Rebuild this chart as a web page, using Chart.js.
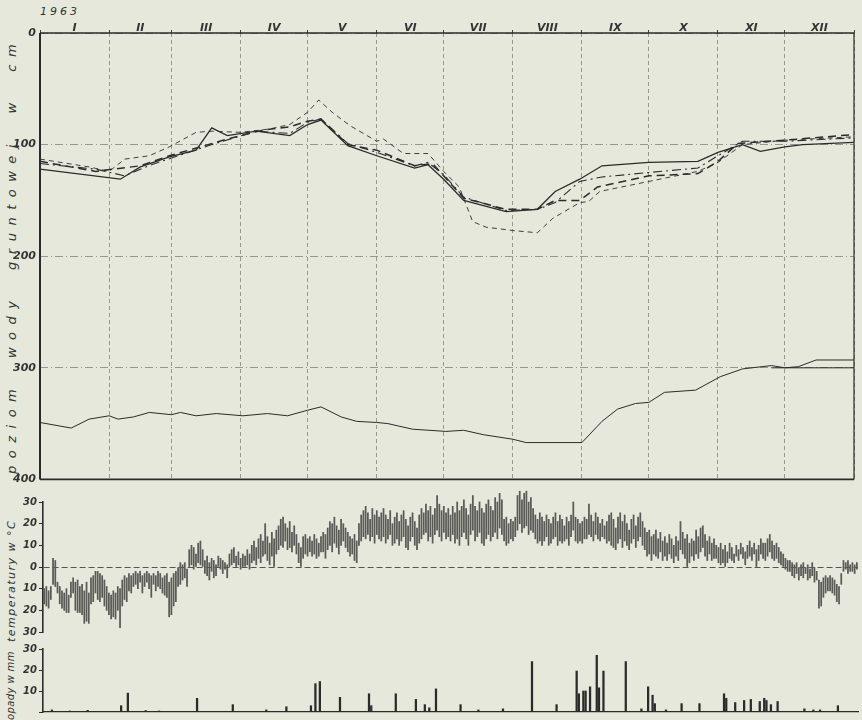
<!DOCTYPE html>
<html>
<head>
<meta charset="utf-8">
<script src="https://cdn.jsdelivr.net/npm/chart.js@4"></script>
<style>
  body { margin: 0; background: #e6e8dc; width: 862px; height: 720px; position: relative; overflow: hidden;
         font-family: "DejaVu Sans", sans-serif; color: #333; }
  canvas { position: absolute; left: 0; }
  .txt { position: absolute; font-style: italic; white-space: nowrap; }
  .rot { transform-origin: 0 0; transform: rotate(-90deg); }
</style>
</head>
<body>
<div class="txt" style="left:40px;top:5px;font-size:11px;letter-spacing:3px">1963</div>
<div class="txt rot" style="left:4px;top:474px;font-size:13px;letter-spacing:7.5px;word-spacing:12px">poziom wody gruntowej w cm</div>
<div class="txt rot" style="left:5px;top:642px;font-size:11px;letter-spacing:1.5px">temperatury w °C</div>
<div class="txt rot" style="left:5px;top:720px;font-size:10px;letter-spacing:0.4px">opady w mm</div>

<canvas id="cGround" width="862" height="490" style="top:0"></canvas>
<canvas id="cTemp" width="862" height="150" style="top:490px"></canvas>
<canvas id="cRain" width="862" height="80" style="top:640px"></canvas>

<script>
Chart.defaults.font.family = "'DejaVu Sans', sans-serif";
Chart.defaults.color = '#333';

// --------------
// DATA
// --------------
const monthStarts = [0, 31, 59, 90, 120, 151, 181, 212, 243, 273, 304, 334, 365];
const monthNames = ['I', 'II', 'III', 'IV', 'V', 'VI', 'VII', 'VIII', 'IX', 'X', 'XI', 'XII'];
const levelTicks = [0, 100, 200, 300, 400];

// groundwater depth (cm), day of year
const solidDays   = [0, 36, 45, 58, 70, 77, 84, 97, 112, 120, 126, 138, 151, 168, 174, 181, 190, 209, 223, 231, 242, 252, 273, 295, 304, 315, 323, 334, 342, 365];
const solidLevels = [122, 131, 120, 111, 105, 85, 92, 88, 92, 82, 78, 101, 110, 121, 118, 131, 150, 160, 158, 142, 131, 119, 116, 115, 107, 100, 106, 102, 100, 98];

const longDashDays   = [0, 25, 45, 58, 72, 84, 100, 112, 120, 126, 138, 151, 168, 176, 181, 190, 209, 223, 231, 242, 250, 273, 295, 304, 313, 334, 365];
const longDashLevels = [115, 124, 119, 110, 102, 95, 87, 84, 79, 77, 100, 105, 119, 117, 128, 148, 158, 158, 150, 150, 138, 128, 126, 115, 99, 96, 91];

const dashDotDays   = [0, 25, 38, 50, 62, 77, 97, 112, 120, 126, 138, 151, 168, 174, 181, 190, 209, 223, 231, 242, 252, 273, 295, 304, 315, 334, 365];
const dashDotLevels = [117, 122, 128, 118, 110, 100, 88, 90, 80, 77, 99, 107, 119, 116, 127, 147, 159, 158, 152, 133, 129, 125, 121, 110, 97, 97, 94];

const fineDashDays   = [0, 22, 31, 38, 49, 58, 70, 77, 90, 103, 112, 120, 125, 131, 139, 151, 154, 163, 174, 181, 188, 194, 200, 212, 223, 230, 242, 246, 251, 273, 295, 304, 315, 334, 365];
const fineDashLevels = [113, 120, 124, 113, 110, 102, 89, 88, 89, 86, 82, 71, 60, 71, 83, 97, 95, 108, 108, 124, 138, 169, 174, 177, 179, 166, 152, 151, 142, 133, 124, 116, 100, 96, 93];

const deepDays   = [0, 14, 22, 31, 35, 42, 49, 59, 63, 70, 79, 91, 102, 111, 120, 126, 135, 142, 151, 156, 167, 182, 190, 199, 212, 218, 243, 252, 259, 267, 273, 280, 294, 305, 315, 328, 334, 340, 348, 365];
const deepLevels = [349, 354, 346, 343, 346, 344, 340, 342, 340, 343, 341, 343, 341, 343, 338, 335, 344, 348, 349, 350, 355, 357, 356, 360, 364, 367, 367, 348, 337, 332, 331, 322, 320, 308, 301, 298, 300, 299, 293, 293];

const deep2Days   = [328, 365];
const deep2Levels = [300, 300];

// daily temperature max / min (°C), Jan..Dec
const tMax = [
  -10,-9,-11,-9,4,3,-7,-9,-11,-12,-10,-13,-7,-5,-7,-6,-9,-8,-11,-7,-12,-5,-4,-2,-2,-3,-4,-6,-9,-12,-13,
  -11,-12,-9,-10,-6,-4,-5,-3,-4,-3,-2,-3,-2,-4,-3,-2,-3,-4,-3,-4,-2,-3,-5,-4,-3,-7,-5,-3,
  -2,0,2,1,2,-1,8,10,9,6,11,12,8,3,5,2,4,3,1,5,4,3,2,1,6,8,9,5,7,4,6,
  5,8,6,10,12,9,13,15,12,20,14,11,16,13,17,19,22,23,20,18,21,16,19,15,11,9,14,15,13,14,
  12,15,13,11,14,16,15,18,21,20,23,19,17,22,20,18,16,14,13,15,12,20,24,26,28,25,22,27,24,26,23,
  25,27,24,22,26,20,23,25,21,24,26,22,19,23,25,21,18,24,27,25,29,26,28,24,27,33,29,26,28,25,
  27,24,28,25,30,26,28,31,27,24,29,33,28,26,30,27,25,29,31,28,26,32,30,34,31,22,23,20,22,21,23,
  33,35,31,34,35,30,32,27,24,22,25,23,21,24,22,20,23,25,21,24,22,19,23,21,24,30,23,22,20,21,23,
  22,29,24,21,25,23,20,22,19,21,24,25,22,18,23,25,21,24,20,17,22,24,19,23,25,21,18,16,17,14,
  15,17,13,16,12,14,11,15,13,10,14,12,21,16,13,15,11,13,12,17,14,18,19,15,12,14,11,13,10,9,11,
  8,10,7,11,9,6,10,8,11,9,7,10,12,9,11,8,10,13,11,11,13,15,12,10,11,9,7,6,4,3,
  3,2,1,2,0,1,2,0,1,-1,2,0,-2,-6,-7,-5,-4,-5,-4,-5,-6,-8,-9,-3,3,2,3,1,2,1,2
];
const tMin = [
  -17,-18,-19,-15,-8,-9,-12,-17,-19,-20,-21,-21,-14,-12,-20,-21,-21,-22,-26,-25,-26,-17,-16,-12,-15,-16,-14,-18,-20,-22,-24,
  -23,-24,-20,-28,-18,-15,-16,-11,-12,-9,-8,-10,-7,-12,-9,-7,-10,-14,-8,-11,-9,-10,-12,-13,-14,-23,-22,-18,
  -16,-9,-8,-6,-5,-9,0,1,-1,0,2,1,0,-3,-4,-6,-2,-5,-4,0,-1,-3,-1,-5,0,1,2,0,1,-1,0,
  0,1,-1,2,3,1,4,2,5,6,3,1,5,0,6,8,10,9,12,8,9,7,10,6,2,0,4,6,5,7,
  5,6,4,5,7,7,4,8,10,7,11,9,6,10,12,9,7,5,6,3,2,10,12,14,13,15,12,14,11,15,13,
  12,14,11,13,15,10,11,13,10,12,14,9,8,12,14,10,8,11,13,15,16,12,14,11,15,17,14,12,16,13,
  14,12,15,11,13,10,14,16,13,10,15,17,12,14,16,11,10,13,15,12,14,16,13,18,15,12,10,11,13,12,14,
  17,20,16,18,19,15,17,16,13,11,12,10,12,14,10,11,13,14,10,12,11,12,13,10,14,17,12,11,12,11,13,
  13,15,14,12,15,13,12,14,13,11,12,10,9,8,11,13,9,12,10,8,11,13,9,12,14,10,8,5,6,3,
  6,5,4,7,3,5,3,6,4,2,5,3,8,6,4,0,2,5,3,6,4,7,9,5,3,6,3,4,4,2,1,
  2,0,2,4,3,2,5,3,6,4,1,4,5,3,6,0,3,6,4,3,5,7,4,3,4,2,1,0,-1,-2,
  -2,-4,-5,-3,-6,-4,-5,-3,-6,-5,-4,-7,-6,-19,-18,-14,-12,-11,-11,-12,-13,-16,-17,-8,-2,-1,-3,-2,-2,-3,-1
];
const tempTicks = [-30, -20, -10, 0, 10, 20, 30];

// precipitation (mm), day of year
const pDays = [4, 12, 20, 35, 38, 46, 52, 69, 85, 100, 109, 120, 122, 124, 133, 146, 147, 158, 167, 171, 173, 176, 187, 195, 206, 219, 230, 239, 240, 242, 243, 245, 248, 249, 251, 261, 268, 271, 273, 274, 279, 286, 294, 305, 306, 310, 314, 317, 321, 323, 324, 326, 329, 341, 345, 348, 356];
const pRain = [1, 0.5, 0.8, 3, 9, 0.7, 0.5, 6.5, 3.5, 1, 2.5, 3, 13.5, 14.5, 7, 8.7, 3, 8.7, 6, 3.5, 2, 11, 3.5, 1, 1.5, 24, 3.5, 19.5, 8.7, 10, 10, 12, 27, 11.5, 19.5, 24, 1.5, 12, 8, 4, 1, 4, 4, 8.7, 6.5, 4.5, 5.5, 6, 5, 6.5, 5.5, 3.5, 5, 1.5, 1, 1, 3];

// --------------
// HELPERS
// --------------
const INK = '#2b2b2b';
const GRID = '#8c8d85';
const italic = (size) => ({ size: size, style: 'italic', weight: 'bold' });

function pts(days, vals) {
  return days.map((d, i) => ({ x: d, y: vals[i] }));
}

function lineSet(days, vals, width, dash) {
  return {
    data: pts(days, vals),
    borderColor: INK,
    borderWidth: width,
    borderDash: dash,
    pointRadius: 0,
    tension: 0,
    fill: false
  };
}

// frame around the groundwater panel
const framePlugin = {
  id: 'frame',
  afterDraw(chart) {
    const { ctx, chartArea: a } = chart;
    ctx.save();
    ctx.strokeStyle = INK;
    const side = (w, x1, y1, x2, y2) => {
      ctx.lineWidth = w;
      ctx.beginPath(); ctx.moveTo(x1, y1); ctx.lineTo(x2, y2); ctx.stroke();
    };
    side(1.6, a.left, a.top, a.right, a.top);
    side(2, a.left, a.top, a.left, a.bottom);
    side(1.6, a.left, a.bottom, a.right, a.bottom);
    side(1.2, a.right, a.top, a.right, a.bottom);
    ctx.restore();
  }
};

// --------------
// GROUNDWATER
// --------------
const monthMids = monthNames.map((m, i) => (monthStarts[i] + monthStarts[i + 1]) / 2);

new Chart(document.getElementById('cGround'), {
  type: 'line',
  data: {
    datasets: [
      lineSet(solidDays, solidLevels, 1.3, []),
      lineSet(longDashDays, longDashLevels, 1.5, [8, 5]),
      lineSet(dashDotDays, dashDotLevels, 1.1, [9, 4, 2, 4]),
      lineSet(fineDashDays, fineDashLevels, 0.9, [5, 4]),
      lineSet(deepDays, deepLevels, 1.0, []),
      lineSet(deep2Days, deep2Levels, 1.0, [])
    ]
  },
  options: {
    responsive: false,
    animation: false,
    events: [],
    layout: { padding: { left: 0, right: 8, top: 0, bottom: 7 } },
    plugins: { legend: { display: false }, tooltip: { enabled: false } },
    scales: {
      x: {
        type: 'linear',
        position: 'top',
        min: 0,
        max: 365,
        afterBuildTicks: s => { s.ticks = monthStarts.concat(monthMids).sort((a, b) => a - b).map(v => ({ value: v })); },
        afterFit: s => { s.height = 33; },
        ticks: {
          autoSkip: false,
          maxRotation: 0,
          padding: -5,
          font: italic(11),
          callback: v => { const i = monthMids.indexOf(v); return i >= 0 ? monthNames[i] : ''; }
        },
        grid: {
          color: c => (c.tick && monthStarts.includes(c.tick.value)) ? GRID : 'transparent',
          tickColor: c => (c.tick && monthStarts.includes(c.tick.value)) ? INK : 'transparent',
          tickLength: 3,
          lineWidth: 0.9
        },
        border: { display: false, dash: [4, 3] }
      },
      y: {
        reverse: true,
        min: 0,
        max: 400,
        afterBuildTicks: s => { s.ticks = levelTicks.map(v => ({ value: v })); },
        afterFit: s => { s.width = 40; },
        ticks: { padding: 4, font: italic(11) },
        grid: { color: GRID, lineWidth: 0.9, drawTicks: false },
        border: { display: false, dash: [8, 3, 1, 3] }
      }
    }
  },
  plugins: [framePlugin]
});

// --------------
// TEMPERATURE
// --------------
new Chart(document.getElementById('cTemp'), {
  type: 'bar',
  data: {
    datasets: [{
      data: tMax.map((v, i) => ({ x: i + 0.5, y: [tMin[i], v] })),
      backgroundColor: '#5a5a57',
      barThickness: 1.1,
      clip: false
    }]
  },
  options: {
    responsive: false,
    animation: false,
    events: [],
    layout: { padding: { left: 0, right: 4, top: 12, bottom: 4 } },
    plugins: { legend: { display: false }, tooltip: { enabled: false } },
    scales: {
      x: { type: 'linear', min: 0, max: 365, offset: false, display: false },
      y: {
        min: -30,
        max: 30,
        afterBuildTicks: s => { s.ticks = tempTicks.map(v => ({ value: v })); },
        afterFit: s => { s.width = 43; },
        ticks: { padding: 2, font: italic(10), callback: v => Math.abs(v) },
        grid: {
          color: c => (c.tick && c.tick.value === 0) ? '#555' : 'transparent',
          tickColor: INK,
          tickLength: 4,
          lineWidth: 1
        },
        border: { display: true, color: INK, width: 1.6, dash: [6, 3] }
      }
    }
  }
});

// --------------
// PRECIPITATION
// --------------
new Chart(document.getElementById('cRain'), {
  type: 'bar',
  data: {
    datasets: [{
      data: pts(pDays, pRain),
      backgroundColor: INK,
      barThickness: 1.6
    }]
  },
  options: {
    responsive: false,
    animation: false,
    events: [],
    layout: { padding: { left: 0, right: 4, top: 9, bottom: 2 } },
    plugins: { legend: { display: false }, tooltip: { enabled: false } },
    scales: {
      x: {
        type: 'linear', min: 0, max: 365, offset: false,
        afterFit: s => { s.height = 0; },
        ticks: { display: false },
        grid: { display: false, drawTicks: false },
        border: { display: true, color: INK, width: 1.2 }
      },
      y: {
        min: 0,
        max: 30,
        afterBuildTicks: s => { s.ticks = [0, 10, 20, 30].map(v => ({ value: v })); },
        afterFit: s => { s.width = 43; },
        ticks: { padding: 2, font: italic(10), callback: v => v === 0 ? '' : v },
        grid: { drawOnChartArea: false, tickColor: INK, tickLength: 4 },
        border: { display: true, color: INK, width: 1.6 }
      }
    }
  }
});
</script>
</body>
</html>
